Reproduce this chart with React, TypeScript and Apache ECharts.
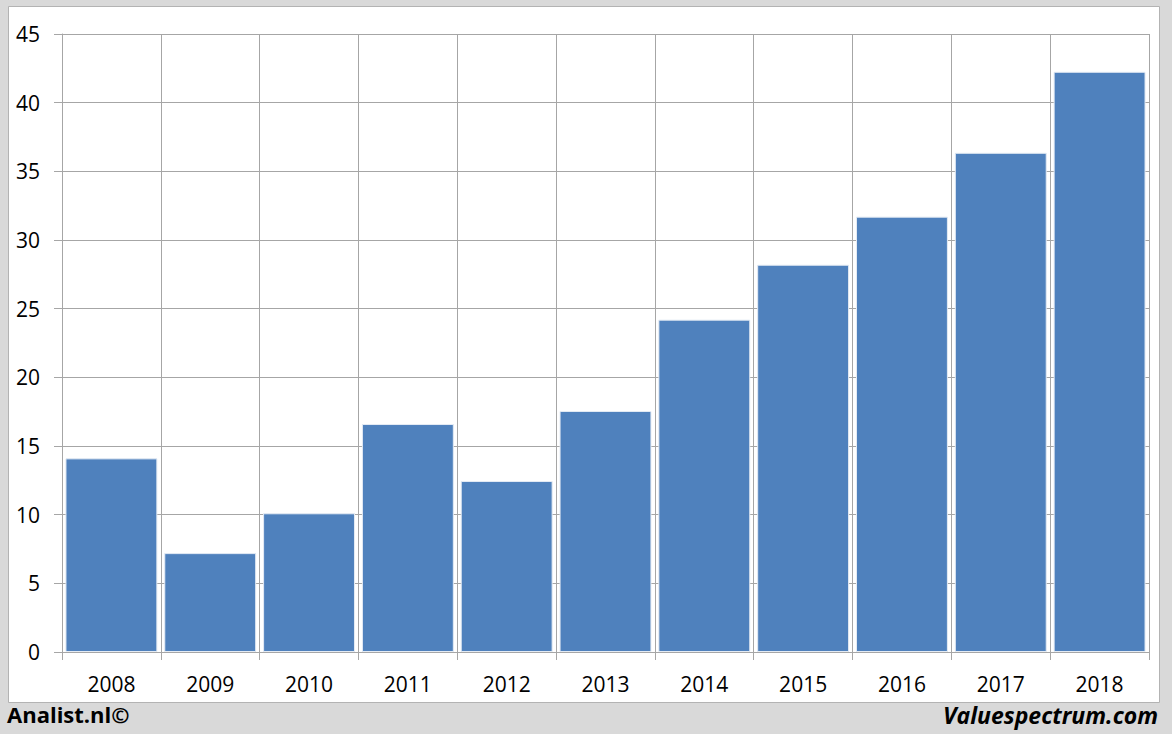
import React, { useEffect, useRef } from "react";
import * as echarts from "echarts";

const years = ["2008", "2009", "2010", "2011", "2012", "2013", "2014", "2015", "2016", "2017", "2018"];
const values = [14.1, 7.2, 10.1, 16.6, 12.45, 17.55, 24.2, 28.2, 31.7, 36.35, 42.25];
const leftCredit = "Analist.nl©";
const rightCredit = "Valuespectrum.com";

const FONT = "'Open Sans', 'Liberation Sans', sans-serif";
const GRID = "#a6a6a6";

export default function App() {
  const ref = useRef<HTMLDivElement>(null);
  useEffect(() => {
    if (!ref.current) return;
    const chart = echarts.init(ref.current, undefined, { renderer: "svg" });
    chart.setOption({
      animation: false,
      backgroundColor: "#d9d9d9",
      graphic: [
        {
          type: "rect",
          z: -10,
          shape: { x: 8.5, y: 6.5, width: 1151, height: 696 },
          style: { fill: "#ffffff", stroke: "#b3b3b3", lineWidth: 1 },
        },
        {
          type: "text",
          left: 7,
          top: 703,
          style: { text: leftCredit, font: `bold 22px ${FONT}`, fill: "#000" },
        },
        {
          type: "text",
          right: 14,
          top: 703,
          style: { text: rightCredit, font: `italic bold 23px ${FONT}`, fill: "#000" },
        },
      ],
      grid: { left: 62, right: 23, top: 34, bottom: 82, containLabel: false },
      xAxis: {
        type: "category",
        data: years,
        boundaryGap: true,
        axisLine: { show: true, lineStyle: { color: GRID, width: 1 } },
        axisTick: { show: true, length: 8, lineStyle: { color: GRID } },
        splitLine: { show: true, lineStyle: { color: GRID, width: 1 } },
        axisLabel: { color: "#000", fontSize: 21, fontFamily: FONT, margin: 21 },
      },
      yAxis: {
        type: "value",
        min: 0,
        max: 45,
        interval: 5,
        axisLine: { show: true, lineStyle: { color: GRID, width: 1 } },
        axisTick: { show: true, length: 8, lineStyle: { color: GRID } },
        splitLine: { show: true, lineStyle: { color: GRID, width: 1 } },
        axisLabel: { color: "#000", fontSize: 21, fontFamily: FONT, margin: 22 },
      },
      series: [
        {
          type: "bar",
          data: values,
          barCategoryGap: "7%",
          itemStyle: { color: "#4f81bd", borderColor: "#e4ebf4", borderWidth: 1 },
        },
      ],
    });
    return () => chart.dispose();
  }, []);
  return (
    <div
      ref={ref}
      style={{ position: "absolute", left: 0, top: 0, width: 1172, height: 734 }}
    />
  );
}
